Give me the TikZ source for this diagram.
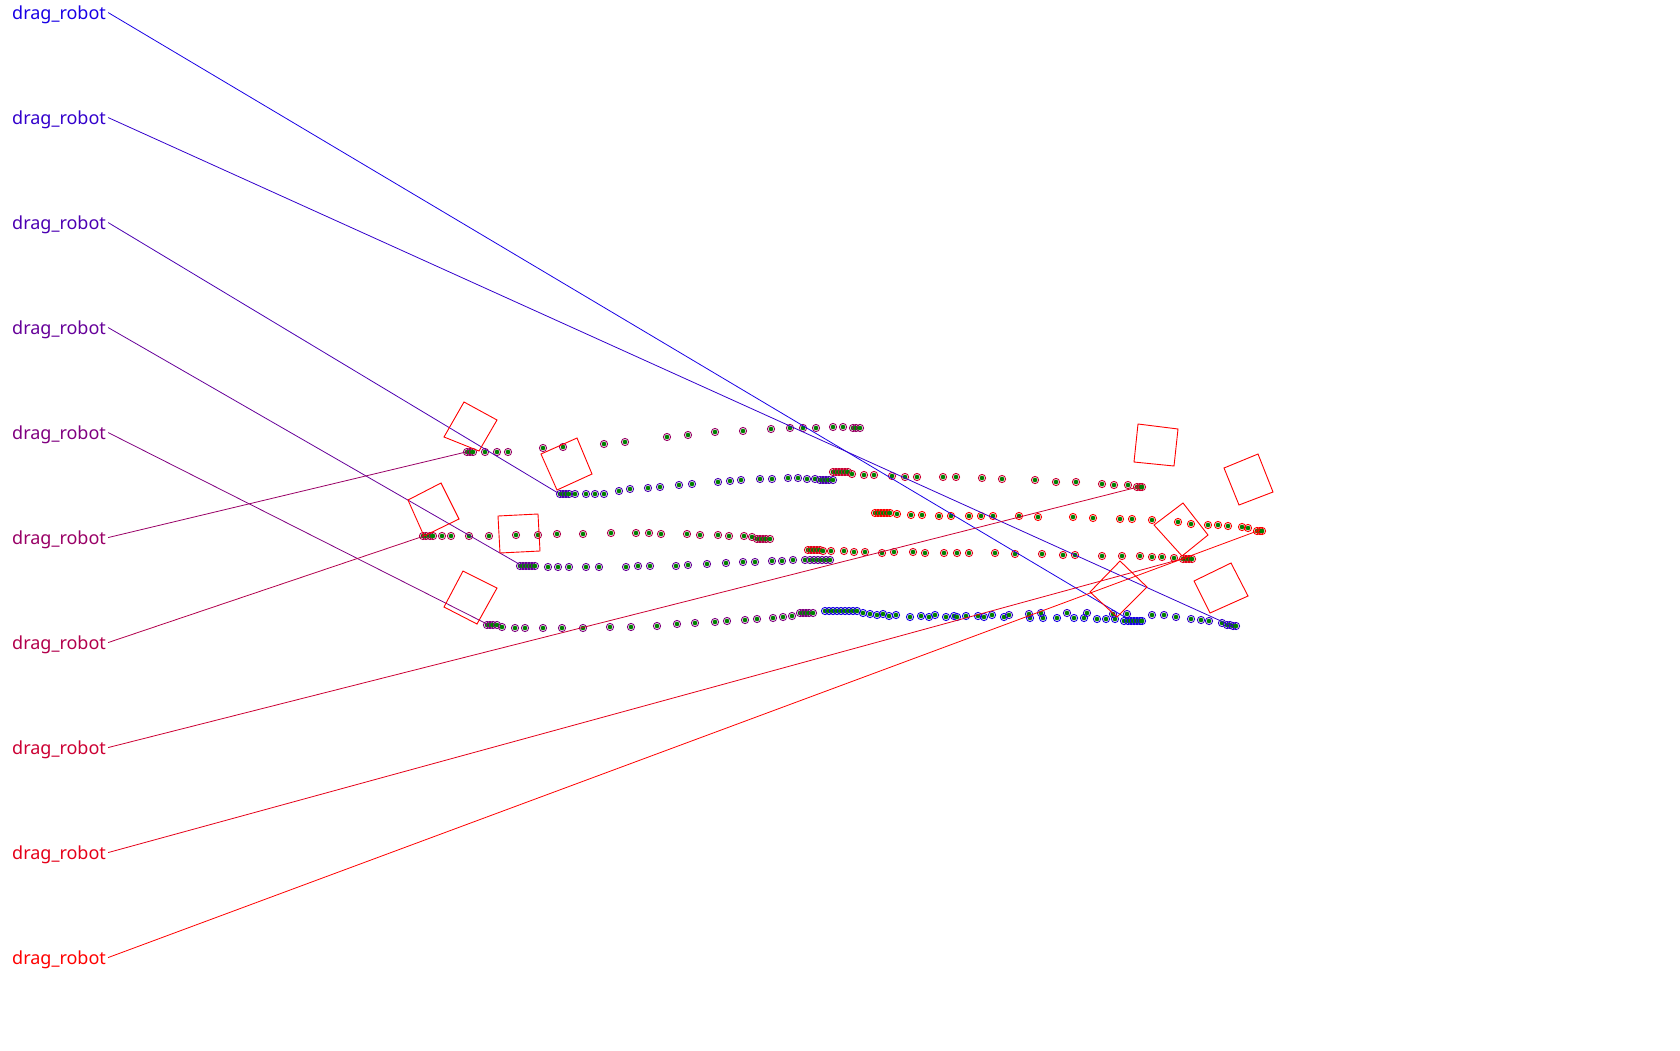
\documentclass[tikz,border=0pt]{standalone}
\usepackage{fontspec}
\newfontfamily\robotfont{Noto Sans}
\definecolor{dotgreen}{RGB}{0,128,0}
\tikzset{
  lbl/.style={font=\robotfont\fontsize{18}{20}\selectfont, inner xsep=2pt, inner ysep=0pt,
    text height=13.5pt, text depth=0pt, anchor=base west},
  link/.style={line width=0.8pt},
  pose/.style={draw=red, line width=0.9pt},
}
\newcommand{\trail}[2]{%
  \foreach \x/\y in {#2} {
    \draw[#1, line width=0.9pt] (\x,\y) circle [radius=3.6pt];
    \fill[dotgreen] (\x,\y) circle [radius=2.3pt];
  }}
\begin{document}
\begin{tikzpicture}[x=1pt,y=-1pt]
\useasboundingbox (0,0) rectangle (1680,1050);
\trail{red!10!blue}{825/611,829/611,833/611,837/611,841/611,845/611,849/611,853/611,857/611,
  863/613,870/614,877/615,883/614,889/616,896/615,910/617,921/616,929/617,935/615,946/617,
  954/616,957/617,966/616,978/616,984/617,992/615,1004/617,1030/618,1043/618,1057/618,
  1074/618,1084/618,1097/619,1106/619,1115/619,1124/621,1128/621,1131/621,1134/621,1137/621,
  1140/621,1142/621}
\trail{red!20!blue}{1009/615,1029/614,1041/613,1067/613,1087/613,1113/614,1127/614,1152/615,
  1164/615,1176/617,1191/619,1201/620,1209/621,1222/623,1227/625,1230/625,1233/626,1236/626}
\trail{red!30!blue}{560/494,563/494,566/494,569/494,575/494,586/494,595/494,604/494,619/491,
  630/489,648/488,660/487,679/485,692/484,718/482,730/481,741/480,760/479,772/479,788/478,
  798/478,807/479,815/479,820/480,823/480,826/480,829/480,833/480}
\trail{red!40!blue}{520/566,523/566,526/566,529/566,532/566,535/566,548/567,558/567,569/567,
  586/567,599/567,626/567,638/566,650/566,676/566,688/565,707/564,726/563,743/562,755/562,
  772/561,782/561,793/560,805/560,810/560,814/560,818/560,822/560,826/560,830/560}
\trail{red!50!blue}{487/625,490/625,493/625,497/625,502/627,515/628,525/628,543/628,562/628,
  583/628,610/627,631/627,657/626,677/624,695/623,715/622,727/621,745/620,757/619,773/618,
  783/617,792/616,800/613,803/613,806/613,809/613,813/613}
\trail{red!60!blue}{467/452,470/452,473/452,485/452,497/452,508/452,543/448,563/447,604/444,
  625/442,667/437,688/435,715/432,743/431,771/429,790/428,803/428,816/428,833/427,843/427,
  853/428,856/428,860/428}
\trail{red!70!blue}{423/536,426/536,430/536,433/536,442/536,451/536,469/536,489/536,516/535,
  538/535,557/534,583/534,611/533,636/533,649/533,661/534,687/534,700/535,718/535,729/536,
  744/536,752/537,757/539,760/539,763/539,766/539,770/539}
\trail{red!80!blue}{833/472,836/472,839/472,842/472,845/472,848/472,852/474,864/475,874/475,
  892/476,905/477,917/477,943/477,956/477,982/478,1002/479,1035/480,1056/482,1076/482,
  1102/484,1114/485,1128/485,1137/487,1140/487,1142/487}
\trail{red!90!blue}{808/550,811/550,814/550,817/550,820/550,823/551,831/551,844/551,854/552,
  865/552,882/553,894/552,913/552,925/553,944/553,957/553,969/553,995/553,1015/554,1042/554,
  1063/555,1075/555,1102/556,1122/556,1140/556,1152/557,1162/557,1174/558,1183/559,1186/559,
  1189/559,1192/559}
\trail{red}{875/513,878/513,881/513,884/513,887/513,890/513,897/514,911/515,922/515,939/516,
  951/516,969/516,981/516,993/516,1019/516,1038/517,1073/517,1093/518,1120/519,1132/519,
  1152/520,1178/522,1191/524,1208/525,1218/525,1228/526,1242/527,1248/528,1257/531,1260/531,
  1262/531}
\coordinate (end1) at (1128,619);
\coordinate (end2) at (1232,626);
\coordinate (end3) at (558,493);
\coordinate (end4) at (519,564);
\coordinate (end5) at (487,624);
\coordinate (end6) at (466,452);
\coordinate (end7) at (424,536);
\coordinate (end8) at (1138,487);
\coordinate (end9) at (1185,558);
\coordinate (end10) at (1260,530);
\foreach \k in {1,...,10} {
  \pgfmathtruncatemacro\pct{10*\k}
  \node[lbl, text=red!\pct!blue] (lab\k) at (10,{19.3+105*(\k-1)}) {drag\_robot};
  \draw[link, red!\pct!blue] (lab\k.east) -- (end\k);
}
\draw[pose] (464,402) -- (497,420) -- (479,451) -- (444,437) -- cycle;
\draw[pose] (577,438) -- (592,474) -- (557,490) -- (541,454) -- cycle;
\draw[pose] (441,483) -- (459,519) -- (424,536) -- (408,500) -- cycle;
\draw[pose] (498,516) -- (538,514) -- (540,551) -- (500,553) -- cycle;
\draw[pose] (463,571) -- (497,588) -- (477,624) -- (444,607) -- cycle;
\draw[pose] (1138,424) -- (1178,429) -- (1174,466) -- (1134,462) -- cycle;
\draw[pose] (1258,454) -- (1273,492) -- (1239,505) -- (1224,468) -- cycle;
\draw[pose] (1183,503) -- (1208,535) -- (1182,556) -- (1154,525) -- cycle;
\draw[pose] (1120,561) -- (1147,587) -- (1117,617) -- (1090,592) -- cycle;
\draw[pose] (1231,563) -- (1248,596) -- (1210,613) -- (1194,581) -- cycle;
\end{tikzpicture}
\end{document}
